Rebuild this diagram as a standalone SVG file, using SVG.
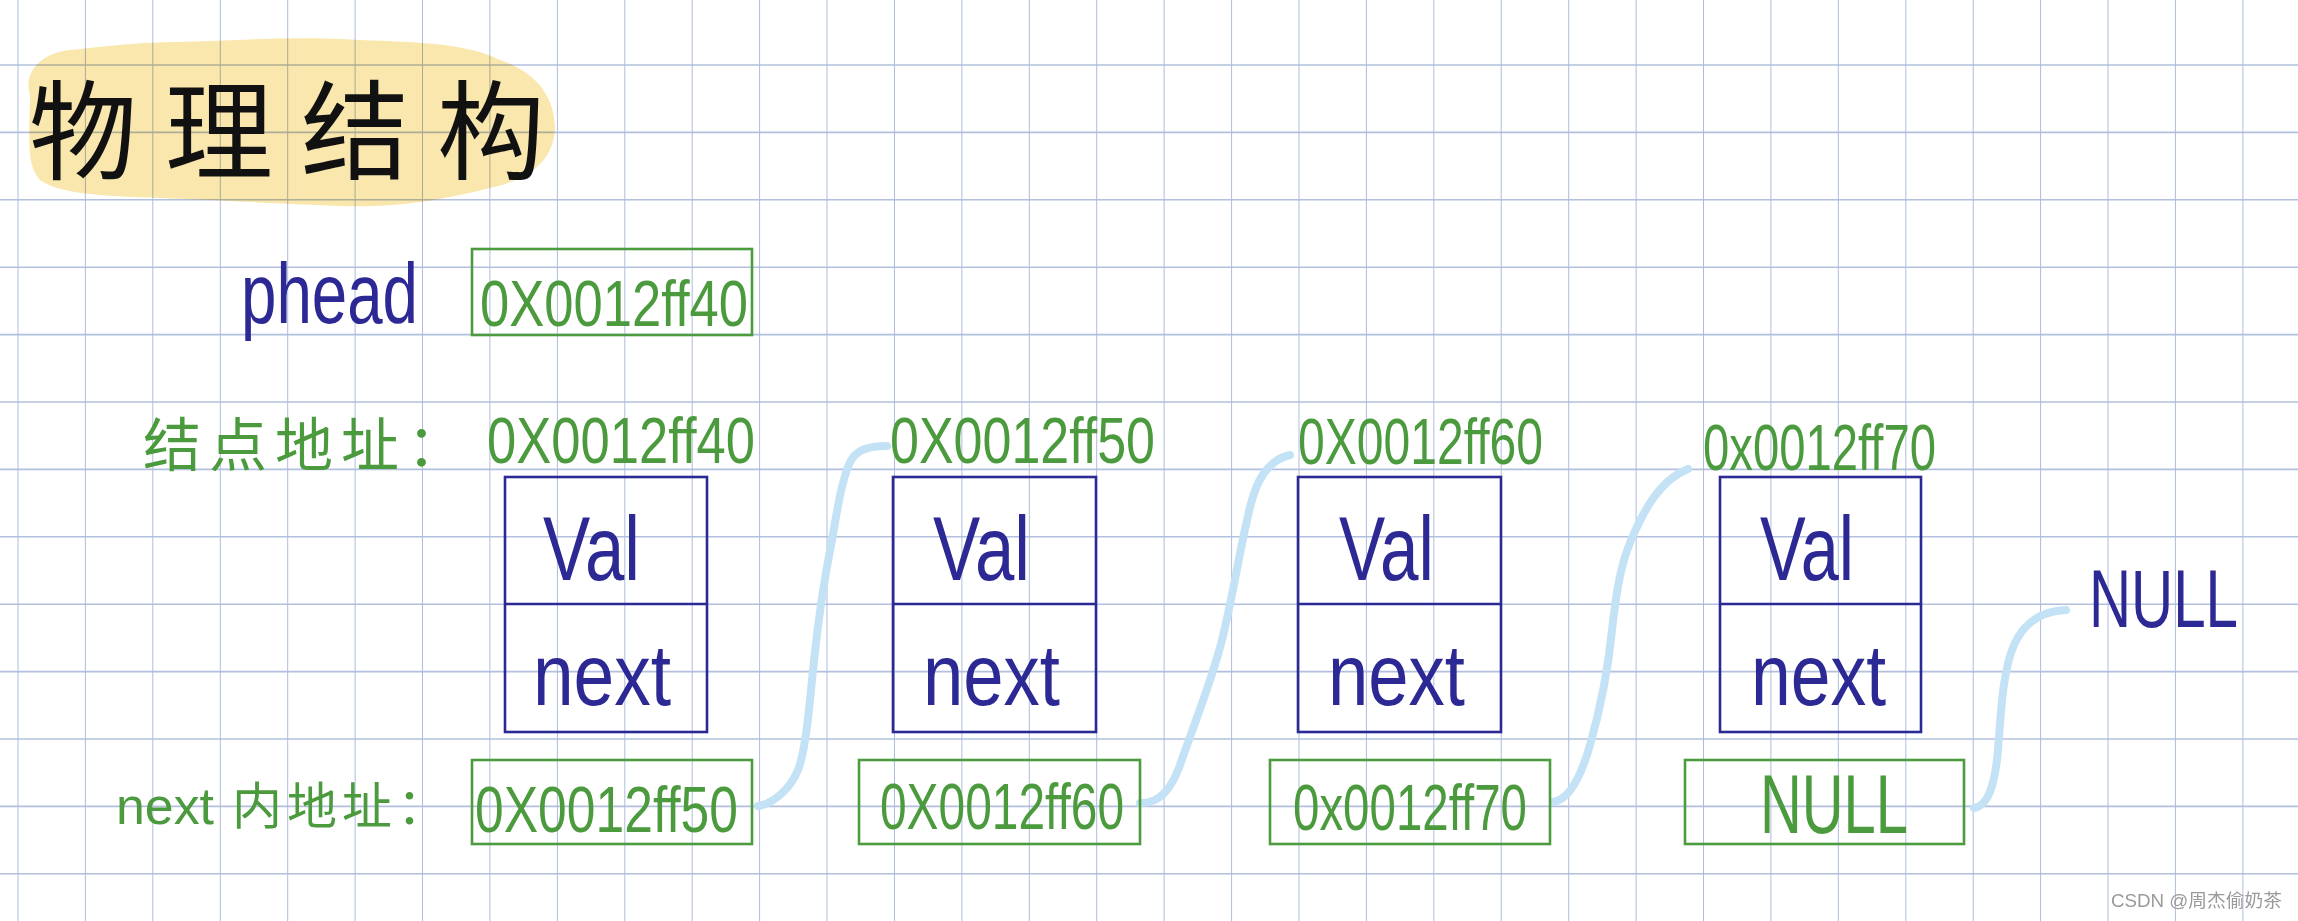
<svg xmlns="http://www.w3.org/2000/svg" width="2298" height="921" viewBox="0 0 2298 921">
<style>
.bg{fill:#ffffff}
.hl{stroke:#b2c0dd;stroke-width:1.6}
.vl{stroke:#aebcdc;stroke-width:1}
.title{font-family:"Noto Sans CJK SC","Noto Sans CJK JP",sans-serif;font-size:108px;font-weight:400;fill:#111111;letter-spacing:28px}
.navy{font-family:"Liberation Sans","Noto Sans CJK SC",sans-serif;fill:#2c2894}
.green{font-family:"Liberation Sans","Noto Sans CJK SC",sans-serif;fill:#4b9a3d}
.cjk{font-family:"Noto Sans CJK SC","Noto Sans CJK JP",sans-serif;fill:#4b9a3d}
.addr{font-size:64px}
.gbox{fill:none;stroke:#4c9b3f;stroke-width:2.6}
.nbox{fill:none;stroke:#2b2a95;stroke-width:2.6}
.val{font-size:90px}
.next{font-size:88px}
.conn{fill:none;stroke:#c4e2f5;stroke-width:8;stroke-linecap:round;stroke-linejoin:round}
.wm{font-family:"Liberation Sans","Noto Sans CJK SC",sans-serif;font-size:18px;fill:#9a9a9a}
</style>
<rect class="bg" x="0" y="0" width="2298" height="921"/>
<g id="highlight">
<path d="M30,95 C22,70 45,52 70,50 C110,46 140,42 180,42 C240,40 300,36 360,40 C420,42 470,44 500,60 C535,72 555,95 555,130 C552,165 525,180 490,188 C440,200 400,208 340,206 C280,204 220,200 160,198 C100,196 60,194 40,180 C25,165 30,130 30,95 Z" fill="#f9e7ad"/>
</g>
<g id="grid" style="mix-blend-mode:multiply">
<line class="hl" x1="0" y1="65" x2="2298" y2="65"/>
<line class="hl" x1="0" y1="132.4" x2="2298" y2="132.4"/>
<line class="hl" x1="0" y1="199.8" x2="2298" y2="199.8"/>
<line class="hl" x1="0" y1="267.2" x2="2298" y2="267.2"/>
<line class="hl" x1="0" y1="334.6" x2="2298" y2="334.6"/>
<line class="hl" x1="0" y1="402" x2="2298" y2="402"/>
<line class="hl" x1="0" y1="469.4" x2="2298" y2="469.4"/>
<line class="hl" x1="0" y1="536.8" x2="2298" y2="536.8"/>
<line class="hl" x1="0" y1="604.2" x2="2298" y2="604.2"/>
<line class="hl" x1="0" y1="671.6" x2="2298" y2="671.6"/>
<line class="hl" x1="0" y1="739" x2="2298" y2="739"/>
<line class="hl" x1="0" y1="806.4" x2="2298" y2="806.4"/>
<line class="hl" x1="0" y1="873.8" x2="2298" y2="873.8"/>
<line class="vl" x1="18" y1="0" x2="18" y2="921"/>
<line class="vl" x1="85.4" y1="0" x2="85.4" y2="921"/>
<line class="vl" x1="152.8" y1="0" x2="152.8" y2="921"/>
<line class="vl" x1="220.3" y1="0" x2="220.3" y2="921"/>
<line class="vl" x1="287.7" y1="0" x2="287.7" y2="921"/>
<line class="vl" x1="355.1" y1="0" x2="355.1" y2="921"/>
<line class="vl" x1="422.5" y1="0" x2="422.5" y2="921"/>
<line class="vl" x1="489.9" y1="0" x2="489.9" y2="921"/>
<line class="vl" x1="557.4" y1="0" x2="557.4" y2="921"/>
<line class="vl" x1="624.8" y1="0" x2="624.8" y2="921"/>
<line class="vl" x1="692.2" y1="0" x2="692.2" y2="921"/>
<line class="vl" x1="759.6" y1="0" x2="759.6" y2="921"/>
<line class="vl" x1="827" y1="0" x2="827" y2="921"/>
<line class="vl" x1="894.5" y1="0" x2="894.5" y2="921"/>
<line class="vl" x1="961.9" y1="0" x2="961.9" y2="921"/>
<line class="vl" x1="1029.3" y1="0" x2="1029.3" y2="921"/>
<line class="vl" x1="1096.7" y1="0" x2="1096.7" y2="921"/>
<line class="vl" x1="1164.1" y1="0" x2="1164.1" y2="921"/>
<line class="vl" x1="1231.6" y1="0" x2="1231.6" y2="921"/>
<line class="vl" x1="1299" y1="0" x2="1299" y2="921"/>
<line class="vl" x1="1366.4" y1="0" x2="1366.4" y2="921"/>
<line class="vl" x1="1433.8" y1="0" x2="1433.8" y2="921"/>
<line class="vl" x1="1501.2" y1="0" x2="1501.2" y2="921"/>
<line class="vl" x1="1568.7" y1="0" x2="1568.7" y2="921"/>
<line class="vl" x1="1636.1" y1="0" x2="1636.1" y2="921"/>
<line class="vl" x1="1703.5" y1="0" x2="1703.5" y2="921"/>
<line class="vl" x1="1770.9" y1="0" x2="1770.9" y2="921"/>
<line class="vl" x1="1838.3" y1="0" x2="1838.3" y2="921"/>
<line class="vl" x1="1905.8" y1="0" x2="1905.8" y2="921"/>
<line class="vl" x1="1973.2" y1="0" x2="1973.2" y2="921"/>
<line class="vl" x1="2040.6" y1="0" x2="2040.6" y2="921"/>
<line class="vl" x1="2108" y1="0" x2="2108" y2="921"/>
<line class="vl" x1="2175.4" y1="0" x2="2175.4" y2="921"/>
<line class="vl" x1="2242.9" y1="0" x2="2242.9" y2="921"/>
</g>
<g id="title">
<text class="title" x="29" y="171">物理结构</text>
</g>
<g id="phead">
<text class="navy" x="241" y="323" font-size="86" textLength="177" lengthAdjust="spacingAndGlyphs">phead</text>
<rect class="gbox" x="472" y="249" width="280" height="86"/>
<text class="green addr" x="480" y="326" textLength="268" lengthAdjust="spacingAndGlyphs">0X0012ff40</text>
</g>
<g id="labels">
<text class="cjk" x="143" y="466" font-size="58" letter-spacing="8">结点地址：</text>
<text class="green" x="116" y="824" font-size="52" textLength="98" lengthAdjust="spacingAndGlyphs">next</text>
<text class="cjk" x="232" y="824" font-size="50" letter-spacing="5">内地址：</text>
</g>
<g id="connectors">
<path class="conn" d="M758,806 C772,804 790,790 798,770 C806,750 810,700 813,670 C817,630 824,580 832,540 C838,505 842,480 850,462 C856,450 868,446 887,446"/>
<path class="conn" d="M1140,803 C1160,804 1172,788 1180,765 C1192,730 1212,680 1222,640 C1232,600 1238,560 1246,525 C1252,495 1260,462 1290,455"/>
<path class="conn" d="M1553,802 C1568,800 1580,780 1590,745 C1600,710 1608,670 1612,630 C1616,595 1620,565 1632,538 C1644,510 1660,480 1688,469"/>
<path class="conn" d="M1974,808 C1988,806 1995,785 1998,750 C2001,710 2003,670 2014,645 C2024,622 2042,611 2066,610"/>
</g>
<g id="node1">
<text class="green addr" x="487" y="463" textLength="268" lengthAdjust="spacingAndGlyphs">0X0012ff40</text>
<rect class="nbox" x="505" y="477" width="202" height="255"/>
<line class="nbox" x1="505" y1="604" x2="707" y2="604"/>
<text class="navy val" x="543" y="580" textLength="97" lengthAdjust="spacingAndGlyphs">Val</text>
<text class="navy next" x="533" y="705" textLength="138" lengthAdjust="spacingAndGlyphs">next</text>
</g>
<g id="node2">
<text class="green addr" x="890" y="463" textLength="265" lengthAdjust="spacingAndGlyphs">0X0012ff50</text>
<rect class="nbox" x="893" y="477" width="203" height="255"/>
<line class="nbox" x1="893" y1="604" x2="1096" y2="604"/>
<text class="navy val" x="933" y="580" textLength="97" lengthAdjust="spacingAndGlyphs">Val</text>
<text class="navy next" x="923" y="705" textLength="137" lengthAdjust="spacingAndGlyphs">next</text>
</g>
<g id="node3">
<text class="green addr" x="1298" y="464" textLength="245" lengthAdjust="spacingAndGlyphs">0X0012ff60</text>
<rect class="nbox" x="1298" y="477" width="203" height="255"/>
<line class="nbox" x1="1298" y1="604" x2="1501" y2="604"/>
<text class="navy val" x="1339" y="580" textLength="95" lengthAdjust="spacingAndGlyphs">Val</text>
<text class="navy next" x="1328" y="705" textLength="137" lengthAdjust="spacingAndGlyphs">next</text>
</g>
<g id="node4">
<text class="green addr" x="1703" y="470" textLength="233" lengthAdjust="spacingAndGlyphs">0x0012ff70</text>
<rect class="nbox" x="1720" y="477" width="201" height="255"/>
<line class="nbox" x1="1720" y1="604" x2="1921" y2="604"/>
<text class="navy val" x="1760" y="580" textLength="94" lengthAdjust="spacingAndGlyphs">Val</text>
<text class="navy next" x="1751" y="705" textLength="135" lengthAdjust="spacingAndGlyphs">next</text>
</g>
<g id="nextbox1">
<rect class="gbox" x="472" y="760" width="280" height="84"/>
<text class="green addr" x="475" y="832" textLength="263" lengthAdjust="spacingAndGlyphs">0X0012ff50</text>
</g>
<g id="nextbox2">
<rect class="gbox" x="859" y="760" width="281" height="84"/>
<text class="green addr" x="880" y="829" textLength="244" lengthAdjust="spacingAndGlyphs">0X0012ff60</text>
</g>
<g id="nextbox3">
<rect class="gbox" x="1270" y="760" width="280" height="84"/>
<text class="green addr" x="1293" y="830" textLength="234" lengthAdjust="spacingAndGlyphs">0x0012ff70</text>
</g>
<g id="nextbox4">
<rect class="gbox" x="1685" y="760" width="279" height="84"/>
<text class="green" x="1760" y="833" font-size="84" textLength="148" lengthAdjust="spacingAndGlyphs">NULL</text>
</g>
<g id="null-end">
<text class="navy" x="2089" y="627" font-size="81" textLength="149" lengthAdjust="spacingAndGlyphs">NULL</text>
</g>
<g id="watermark">
<text class="wm" x="2111" y="907" textLength="171" lengthAdjust="spacingAndGlyphs">CSDN @周杰偷奶茶</text>
</g>
</svg>
